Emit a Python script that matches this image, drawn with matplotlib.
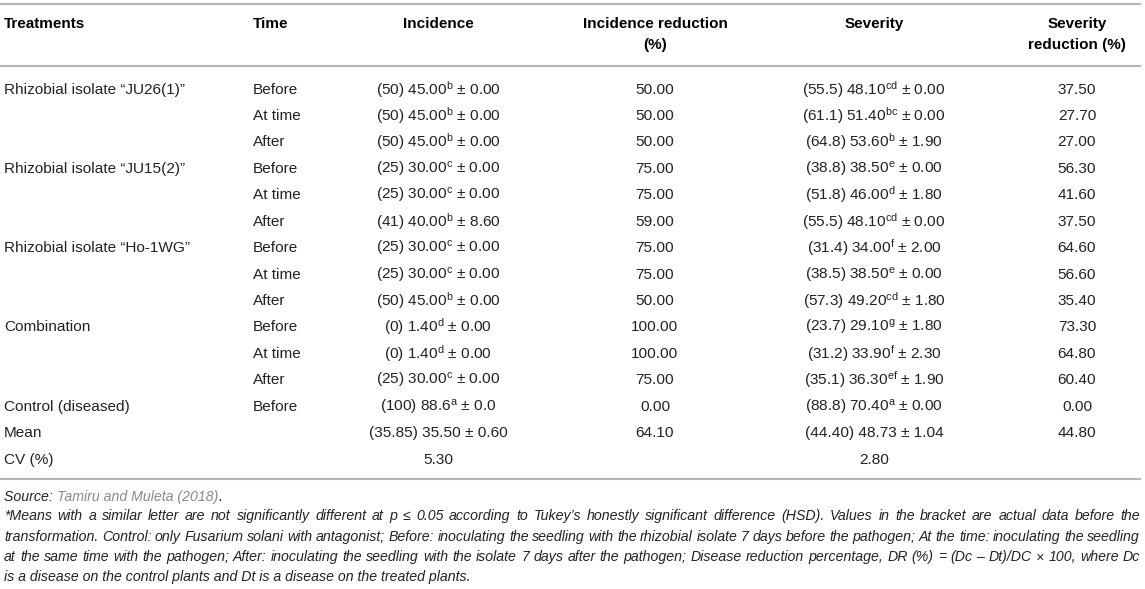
import math
import matplotlib
matplotlib.use("Agg")
import matplotlib.pyplot as plt

plt.rcParams['font.family'] = ['Liberation Sans', 'DejaVu Sans']
plt.rcParams['mathtext.fontset'] = 'custom'
plt.rcParams['mathtext.rm'] = 'Liberation Sans'
plt.rcParams['mathtext.it'] = 'Liberation Sans:italic'
plt.rcParams['mathtext.bf'] = 'Liberation Sans:bold'

# ---------------- data ----------------
headers = ["Treatments", "Time", "Incidence", "Incidence reduction\n(%)", "Severity", "Severity\nreduction (%)"]
treatments = ["Rhizobial isolate “JU26(1)”", "", "", "Rhizobial isolate “JU15(2)”", "", "",
              "Rhizobial isolate “Ho-1WG”", "", "", "Combination", "", "", "Control (diseased)", "Mean", "CV (%)"]
times = ["Before", "At time", "After", "Before", "At time", "After", "Before", "At time", "After",
         "Before", "At time", "After", "Before", "", ""]
inc_actual = ["50", "50", "50", "25", "25", "41", "25", "25", "50", "0", "0", "25", "100"]
inc_mean = ["45.00", "45.00", "45.00", "30.00", "30.00", "40.00", "30.00", "30.00", "45.00", "1.40", "1.40", "30.00", "88.6"]
inc_letter = ["b", "b", "b", "c", "c", "b", "c", "c", "b", "d", "d", "c", "a"]
inc_sd = ["0.00", "0.00", "0.00", "0.00", "0.00", "8.60", "0.00", "0.00", "0.00", "0.00", "0.00", "0.00", "0.0"]
inc_red = ["50.00", "50.00", "50.00", "75.00", "75.00", "59.00", "75.00", "75.00", "50.00", "100.00", "100.00", "75.00", "0.00"]
sev_actual = ["55.5", "61.1", "64.8", "38.8", "51.8", "55.5", "31.4", "38.5", "57.3", "23.7", "31.2", "35.1", "88.8"]
sev_mean = ["48.10", "51.40", "53.60", "38.50", "46.00", "48.10", "34.00", "38.50", "49.20", "29.10", "33.90", "36.30", "70.40"]
sev_letter = ["cd", "bc", "b", "e", "d", "cd", "f", "e", "cd", "g", "f", "ef", "a"]
sev_sd = ["0.00", "0.00", "1.90", "0.00", "1.80", "0.00", "2.00", "0.00", "1.80", "1.80", "2.30", "1.90", "0.00"]
sev_red = ["37.50", "27.70", "27.00", "56.30", "41.60", "37.50", "64.60", "56.60", "35.40", "73.30", "64.80", "60.40", "0.00"]
mean_row = ["(35.85) 35.50 ± 0.60", "64.10", "(44.40) 48.73 ± 1.04", "44.80"]
cv_row = ["5.30", "2.80"]

source_pre = "Source: "
source_link = "Tamiru and Muleta (2018)"
footnote_lines = [
    "*Means with a similar letter are not significantly different at p ≤ 0.05 according to Tukey’s honestly significant difference (HSD). Values in the bracket are actual data before the",
    "transformation. Control: only Fusarium solani with antagonist; Before: inoculating the seedling with the rhizobial isolate 7 days before the pathogen; At the time: inoculating the seedling",
    "at the same time with the pathogen; After: inoculating the seedling with the isolate 7 days after the pathogen; Disease reduction percentage, DR (%) = (Dc – Dt)/DC × 100, where Dc",
    "is a disease on the control plants and Dt is a disease on the treated plants.",
]

# ---------------- layout ----------------
W, H = 1145, 589
fig = plt.figure(figsize=(W / 100, H / 100), dpi=100)
ax = fig.add_axes([0, 0, 1, 1])
ax.set_xlim(0, W)
ax.set_ylim(H, 0)
ax.axis('off')

TXT = '#222222'
LINE = '#b5b5b5'
FS = 11.1
col_x = [4, 253, 438, 655, 874, 1077]
col_ha = ['left', 'left', 'center', 'center', 'center', 'center']
row0, dy = 89, 26.43
bl = 5.0  # baseline offset from visual centre

def base(y):
    # keep every baseline on the same pixel grid phase so glyphs line up
    return math.floor(y) + 0.49

for y in (4, 66, 479):
    ax.plot([0, 1141], [y, y], color=LINE, lw=1.5, solid_capstyle='butt')

# headers
for h, x, ha in zip(headers, col_x, col_ha):
    for k, part in enumerate(h.split("\n")):
        ax.text(x, base(23 + k * 21 + bl), part, ha=ha, va='baseline', fontsize=11.0,
                fontweight='bold', color='black')

def sup(s):
    return r"$^{\mathrm{%s}}$" % s

for i in range(15):
    y = base(row0 + i * dy + bl)
    ax.text(col_x[0], y, treatments[i], ha='left', va='baseline', fontsize=FS, color=TXT)
    ax.text(col_x[1], y, times[i], ha='left', va='baseline', fontsize=FS, color=TXT)
    if i < 13:
        inc = f"({inc_actual[i]}) {inc_mean[i]}" + sup(inc_letter[i]) + f" ± {inc_sd[i]}"
        sev = f"({sev_actual[i]}) {sev_mean[i]}" + sup(sev_letter[i]) + f" ± {sev_sd[i]}"
        vals = [inc, inc_red[i], sev, sev_red[i]]
    elif i == 13:
        vals = mean_row
    else:
        vals = [cv_row[0], "", cv_row[1], ""]
    for v, x in zip(vals, col_x[2:]):
        if v:
            ax.text(x, y, v, ha='center', va='baseline', fontsize=FS, color=TXT)

# footnotes
FFS = 10.2
fig.canvas.draw()
renderer = fig.canvas.get_renderer()

def width_of(t):
    return t.get_window_extent(renderer=renderer).width

def fn_text(x, y, s, color=TXT):
    return ax.text(x, y, s, ha='left', va='baseline', fontsize=FFS, style='italic', color=color)

y_src = base(497 + 4.5)
t1 = fn_text(4, y_src, source_pre)
w1 = width_of(t1)
t2 = fn_text(4 + w1, y_src, source_link, color='#8a8a8a')
w2 = width_of(t2)
fn_text(4 + w1 + w2, y_src, ".")

x_left, x_right = 4, 1140
line_y = [516, 537, 557, 577]
for li, (line, yy) in enumerate(zip(footnote_lines, line_y)):
    y = base(yy + 4.5)
    if li == len(footnote_lines) - 1:
        fn_text(x_left, y, line)
        continue
    words = line.split(" ")
    texts = [fn_text(0, y, w) for w in words]
    widths = [width_of(t) for t in texts]
    gap = (x_right - x_left - sum(widths)) / (len(words) - 1)
    x = x_left
    for t, w in zip(texts, widths):
        t.set_x(x)
        x += w + gap

fig.savefig("out.png", dpi=100)
